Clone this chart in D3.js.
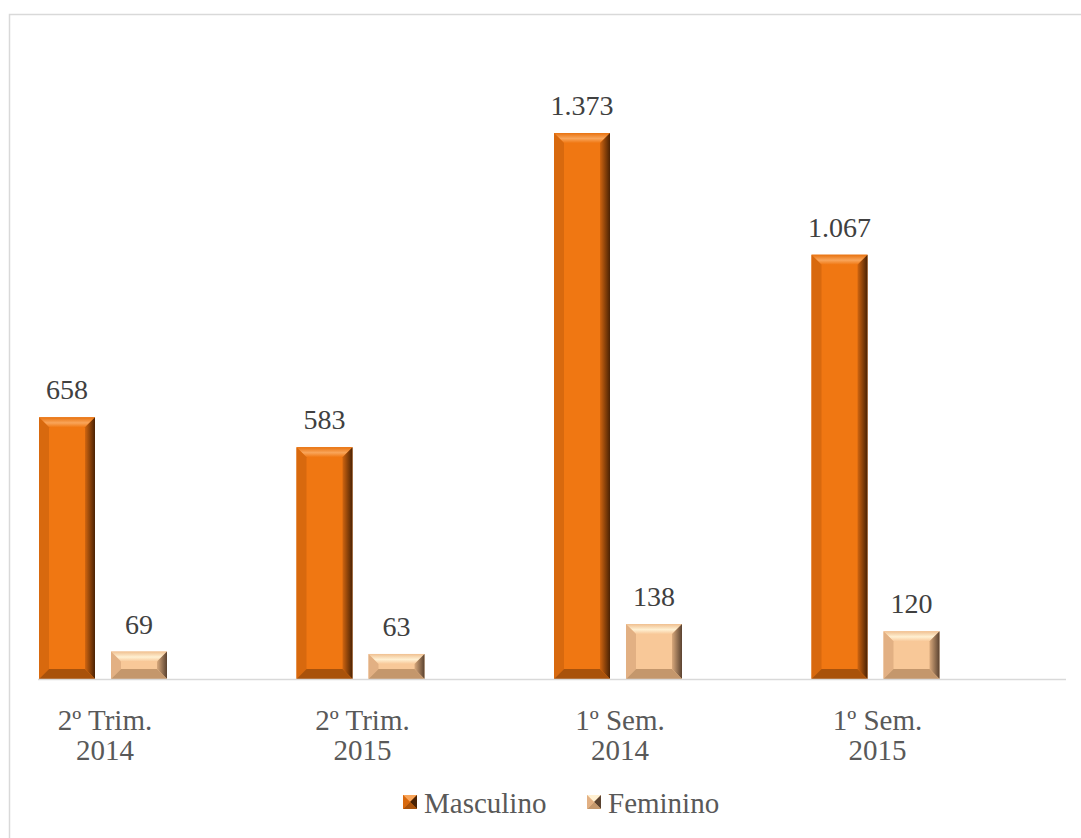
<!DOCTYPE html>
<html>
<head>
<meta charset="utf-8">
<style>
    body { margin: 0; background: #fff; }
</style>
</head>
<body>
<script src="https://cdn.jsdelivr.net/npm/d3@7"></script>
<script>
    // data
    var categories = [["2º Trim.", "2014"], ["2º Trim.", "2015"], ["1º Sem.", "2014"], ["1º Sem.", "2015"]];
    var seriesNames = ["Masculino", "Feminino"];
    var masculino = [658, 583, 1373, 1067];
    var feminino = [69, 63, 138, 120];

    var width = 1081, height = 838;
    var serif = "'Liberation Serif', 'Times New Roman', serif";
    var fmt = function (v) { return v >= 1000 ? d3.format(",")(v).replace(",", ".") : String(v); };

    var svg = d3.select("body").append("svg")
        .attr("width", width)
        .attr("height", height);

    var defs = svg.append("defs");

    // chart border (runs off the right and bottom)
    svg.append("rect")
        .attr("x", 9.5).attr("y", 14.5)
        .attr("width", 1100).attr("height", 900)
        .attr("fill", "none")
        .attr("stroke", "#d9d9d9")
        .attr("stroke-width", 1.5);

    var catIdx = categories.map(function (d, i) { return i; });
    var x0 = d3.scalePoint().domain(catIdx).range([103, 875.5]);
    var x1 = d3.scaleBand().domain(seriesNames).range([-64, 64]).paddingInner(0.2222);
    var y = d3.scaleLinear().domain([0, 1500]).range([679, 679 - 1500 * 546 / 1373]);

    var palette = {
        Masculino: { main: "#f07712", top1: "#f9a55a", top2: "#e8720f", left: "#d8690e", right1: "#d06510", right2: "#4a2204", bottom: "#a9520b" },
        Feminino: { main: "#f8c898", top1: "#fff0d2", top2: "#f0c090", left: "#e2b083", right1: "#d9a97c", right2: "#5a4230", bottom: "#c4976c" }
    };

    seriesNames.forEach(function (s) {
        var p = palette[s];
        var gt = defs.append("linearGradient").attr("id", "top-" + s).attr("x1", 0).attr("y1", 0).attr("x2", 0).attr("y2", 1);
        gt.append("stop").attr("offset", 0).attr("stop-color", p.top2);
        gt.append("stop").attr("offset", 0.55).attr("stop-color", p.top1);
        gt.append("stop").attr("offset", 1).attr("stop-color", p.main);
        var gr = defs.append("linearGradient").attr("id", "right-" + s).attr("x1", 0).attr("y1", 0).attr("x2", 1).attr("y2", 0);
        gr.append("stop").attr("offset", 0).attr("stop-color", p.right1);
        gr.append("stop").attr("offset", 1).attr("stop-color", p.right2);
    });

    var rows = [];
    catIdx.forEach(function (i) {
        rows.push({ cat: i, series: "Masculino", value: masculino[i] });
        rows.push({ cat: i, series: "Feminino", value: feminino[i] });
    });

    function bevelBar(g, bx, by, bw, bh, s) {
        var p = palette[s];
        var b = Math.min(10, bh / 2);
        g.append("rect").attr("x", bx).attr("y", by).attr("width", bw).attr("height", bh).attr("fill", p.main);
        var poly = function (pts, fill) {
            g.append("polygon").attr("points", pts.map(function (q) { return q.join(","); }).join(" ")).attr("fill", fill);
        };
        poly([[bx, by], [bx + bw, by], [bx + bw - b, by + b], [bx + b, by + b]], "url(#top-" + s + ")");
        poly([[bx, by], [bx + b, by + b], [bx + b, by + bh - b], [bx, by + bh]], p.left);
        poly([[bx + bw, by], [bx + bw, by + bh], [bx + bw - b, by + bh - b], [bx + bw - b, by + b]], "url(#right-" + s + ")");
        poly([[bx, by + bh], [bx + b, by + bh - b], [bx + bw - b, by + bh - b], [bx + bw, by + bh]], p.bottom);
    }

    var bars = svg.append("g");
    rows.forEach(function (d) {
        var bx = x0(d.cat) + x1(d.series);
        var by = y(d.value);
        bevelBar(bars.append("g"), bx, by, x1.bandwidth(), y(0) - by, d.series);
    });

    // axis line
    svg.append("line")
        .attr("x1", 38).attr("x2", 1066)
        .attr("y1", 679.5).attr("y2", 679.5)
        .attr("stroke", "#d9d9d9").attr("stroke-width", 1.5);

    // value labels
    svg.append("g").selectAll("text")
        .data(rows)
        .enter().append("text")
        .attr("x", function (d) { return x0(d.cat) + x1(d.series) + x1.bandwidth() / 2; })
        .attr("y", function (d) { return y(d.value) - 18; })
        .attr("text-anchor", "middle")
        .attr("font-family", serif)
        .attr("font-size", 28)
        .attr("fill", "#404040")
        .text(function (d) { return fmt(d.value); });

    // category labels
    var cl = svg.append("g").selectAll("text")
        .data(catIdx)
        .enter().append("text")
        .attr("text-anchor", "middle")
        .attr("font-family", serif)
        .attr("font-size", 29)
        .attr("fill", "#595959");
    cl.append("tspan").attr("x", function (i) { return x0(i) + 2; }).attr("y", 730).text(function (i) { return categories[i][0]; });
    cl.append("tspan").attr("x", function (i) { return x0(i) + 2; }).attr("y", 760).text(function (i) { return categories[i][1]; });

    // legend
    var legendX = [403, 587];
    var lg = svg.append("g").selectAll("g")
        .data(seriesNames)
        .enter().append("g")
        .attr("transform", function (d, i) { return "translate(" + legendX[i] + ",795)"; });
    lg.each(function (s) {
        var g = d3.select(this);
        var p = palette[s];
        g.append("rect").attr("width", 14).attr("height", 14).attr("fill", p.main);
        g.append("polygon").attr("points", "0,0 14,0 7,7").attr("fill", p.top1);
        g.append("polygon").attr("points", "14,0 14,14 7,7").attr("fill", p.right2);
        g.append("polygon").attr("points", "0,14 14,14 7,7").attr("fill", p.bottom);
        g.append("polygon").attr("points", "0,0 0,14 7,7").attr("fill", p.left);
    });
    lg.append("text")
        .attr("x", 21).attr("y", 18)
        .attr("font-family", serif)
        .attr("font-size", 29)
        .attr("fill", "#595959")
        .text(function (d) { return d; });
</script>
</body>
</html>
